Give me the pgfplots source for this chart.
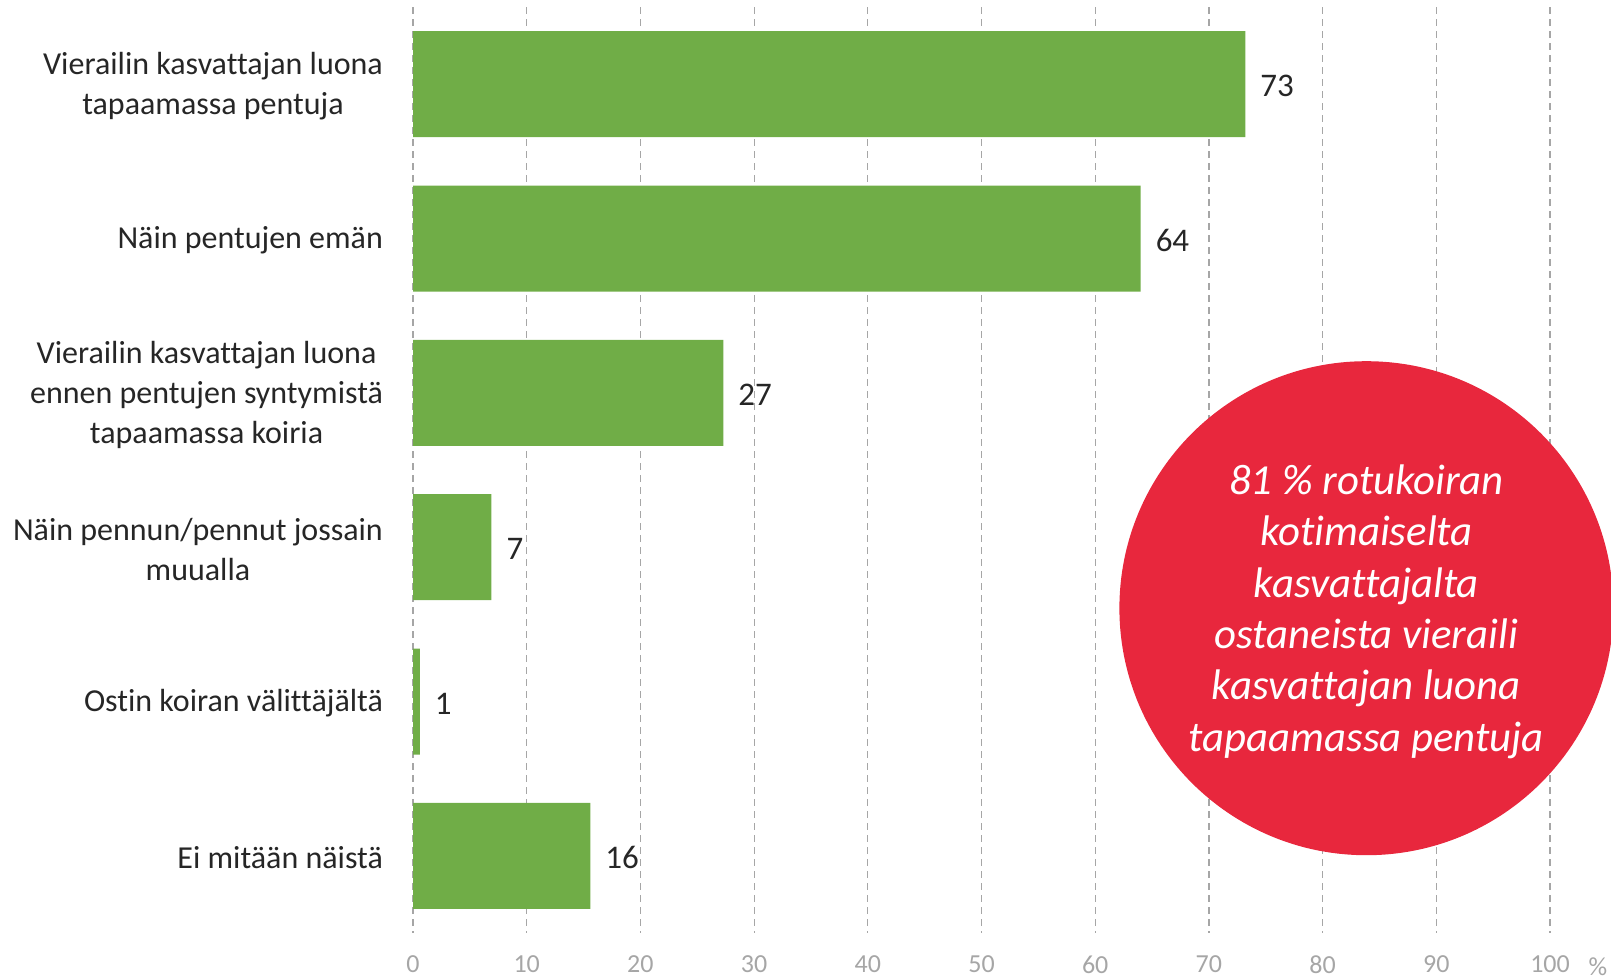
\documentclass[border=0pt]{standalone}
\usepackage{fontspec}
\setmainfont{Carlito}[Ligatures=CommonOff]
\usepackage{pgfplots}
\pgfplotsset{compat=1.18}

\definecolor{barg}{RGB}{112,173,71}
\definecolor{circred}{RGB}{232,39,61}
\definecolor{gridg}{RGB}{166,166,166}
\definecolor{txt}{RGB}{38,38,38}

\begin{document}
\begin{tikzpicture}
\useasboundingbox (0,0) rectangle (805.5pt,-489.5pt);
\begin{axis}[
at={(206.5pt,-3.5pt)}, anchor=north west,
scale only axis, width=568.5pt, height=463pt,
xbar, bar width=53pt,
xmin=0, xmax=100, ymin=-0.5, ymax=5.5, y dir=reverse,
axis line style={draw=none},
major tick length=0pt,
xtick={0,10,...,100}, ytick={0,...,5},
yticklabels={{Vierailin kasvattajan luona\\tapaamassa pentuja},
  {Näin pentujen emän},
  {Vierailin kasvattajan luona\\ennen pentujen syntymistä\\tapaamassa koiria},
  {Näin pennun/pennut jossain\\muualla},
  {Ostin koiran välittäjältä},
  {Ei mitään näistä}},
yticklabel style={align=center, text=txt, font=\fontsize{16}{20}\selectfont, xshift=-11.5pt, yshift=-1pt},
xticklabel style={text=gridg, font=\fontsize{13}{15}\selectfont, yshift=-8pt,
  /pgf/number format/assume math mode=true},
xmajorgrids, grid style={gridg, dash pattern=on 3.5pt off 2.5pt, line width=0.6pt},
point meta=explicit symbolic,
nodes near coords,
nodes near coords style={anchor=west, text=txt, font=\fontsize{16.5}{20}\selectfont, xshift=4pt, yshift=-1pt},
clip=false,
]
\addplot[fill=barg, draw=none] table[meta=lab] {
x y lab
73.2 0 73
64.0 1 64
27.3 2 27
6.9 3 7
0.6 4 1
15.6 5 16
};
\node[text=gridg, font=\fontsize{13}{15}\selectfont, anchor=base] at ([xshift=24pt, yshift=-21pt]rel axis cs:1,0) {\%};
\end{axis}
\fill[circred] (683.2pt,-304.1pt) circle (123.5pt);
\node[text=white, align=center, font=\fontsize{21.4}{25.7}\selectfont\itshape] at (683.2pt,-305.8pt)
  {81 \% rotukoiran\\kotimaiselta\\kasvattajalta\\ostaneista vieraili\\kasvattajan luona\\tapaamassa pentuja};
\end{tikzpicture}
\end{document}
